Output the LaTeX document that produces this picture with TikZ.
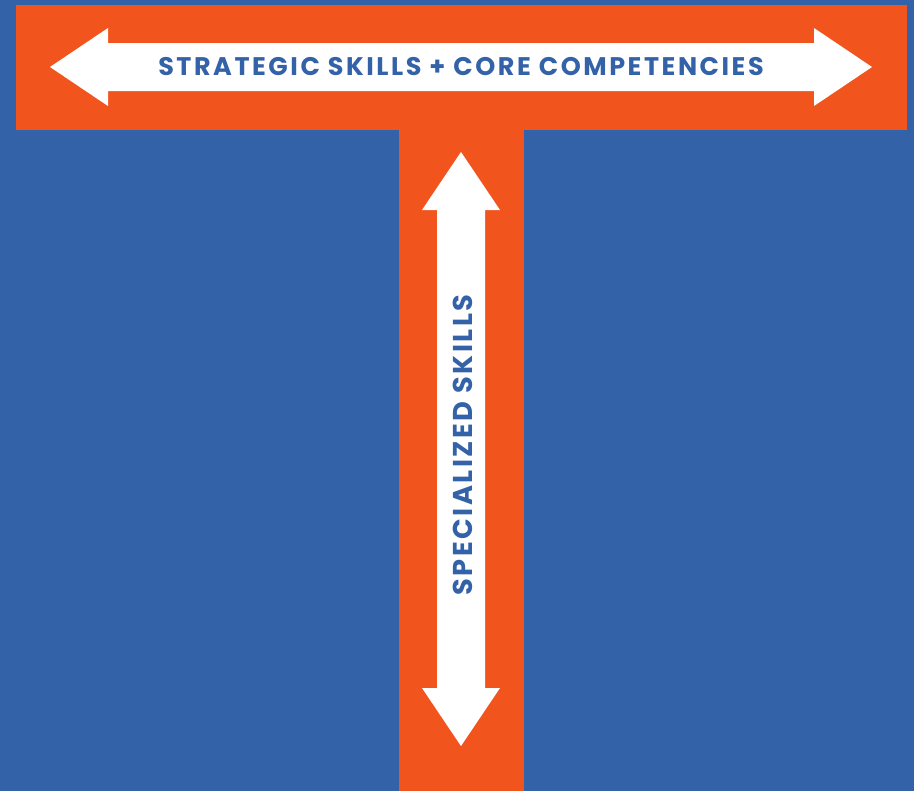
\documentclass[tikz,border=0pt]{standalone}
\usepackage{fontspec}
\setmainfont{Poppins}
\usepackage{tikz}
\definecolor{tBlue}{RGB}{52, 98, 168}
\definecolor{tOrange}{RGB}{242, 84, 30}

\begin{document}
\begin{tikzpicture}[x=0.02cm,y=-0.02cm]
% Background
\fill[tBlue] (0,0) rectangle (914,791);

% T shape
\fill[tOrange] (16,5) rectangle (907,130);
\fill[tOrange] (399,129) rectangle (524,791);

% Horizontal double arrow
\fill[white] (50,67) -- (108,28) -- (108,43) -- (814,43) -- (814,28) -- (872,67)
  -- (814,106) -- (814,91) -- (108,91) -- (108,106) -- cycle;

% Vertical double arrow
\fill[white] (461,152) -- (500,210) -- (485,210) -- (485,688) -- (500,688) -- (461,746)
  -- (422,688) -- (437,688) -- (437,210) -- (422,210) -- cycle;

% Labels
\node[text=tBlue,font=\fontsize{14.5}{16}\selectfont\bfseries\addfontfeatures{LetterSpace=10}] (strategic) at (461,67)
  {STRATEGIC SKILLS + CORE COMPETENCIES};
\node[text=tBlue,font=\fontsize{15.5}{17}\selectfont\bfseries\addfontfeatures{LetterSpace=9},rotate=90] (special) at (463,445)
  {SPECIALIZED SKILLS};
\end{tikzpicture}
\end{document}
